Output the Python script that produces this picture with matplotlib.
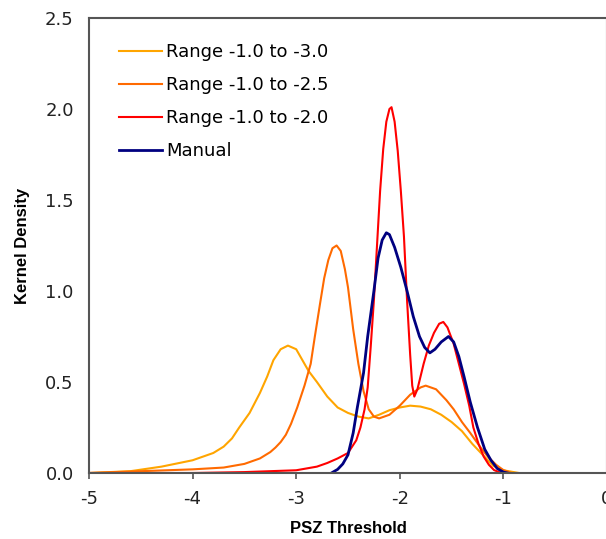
import matplotlib
matplotlib.use("Agg")
import matplotlib.pyplot as plt

plt.rcParams['axes.unicode_minus'] = False

# ---- data ----
x_30 = [-5.0, -4.6, -4.3, -4.0, -3.9, -3.8, -3.7, -3.62, -3.55, -3.45, -3.35, -3.28, -3.22,
        -3.15, -3.08, -3.0, -2.94, -2.88, -2.8, -2.7, -2.6, -2.5, -2.4, -2.3, -2.2, -2.1,
        -2.0, -1.9, -1.8, -1.7, -1.6, -1.5, -1.4, -1.3, -1.2, -1.1, -1.0, -0.9, -0.85]
y_30 = [0.0, 0.01, 0.035, 0.07, 0.09, 0.11, 0.145, 0.19, 0.25, 0.33, 0.44, 0.53, 0.62,
        0.68, 0.70, 0.68, 0.62, 0.56, 0.50, 0.42, 0.36, 0.33, 0.31, 0.30, 0.32, 0.345,
        0.36, 0.37, 0.365, 0.35, 0.32, 0.28, 0.23, 0.16, 0.10, 0.04, 0.015, 0.005, 0.0]

x_25 = [-5.0, -4.5, -4.0, -3.7, -3.5, -3.35, -3.25, -3.2, -3.15, -3.1, -3.05, -2.99,
        -2.92, -2.86, -2.82, -2.77, -2.73, -2.69, -2.65, -2.61, -2.57, -2.53, -2.5,
        -2.45, -2.4, -2.35, -2.3, -2.25, -2.2, -2.1, -2.0, -1.9, -1.8, -1.75, -1.65,
        -1.55, -1.48, -1.4, -1.32, -1.22, -1.15, -1.07, -1.0, -0.92]
y_25 = [0.0, 0.01, 0.02, 0.03, 0.05, 0.08, 0.115, 0.14, 0.17, 0.21, 0.27, 0.36,
        0.48, 0.60, 0.75, 0.93, 1.07, 1.17, 1.235, 1.25, 1.22, 1.12, 1.02,
        0.79, 0.60, 0.45, 0.35, 0.31, 0.30, 0.32, 0.37, 0.43, 0.47, 0.48, 0.46,
        0.40, 0.35, 0.28, 0.22, 0.14, 0.09, 0.045, 0.016, 0.0]

x_20 = [-5.0, -4.0, -3.5, -3.0, -2.8, -2.7, -2.6, -2.5, -2.42, -2.38, -2.34, -2.31,
        -2.28, -2.25, -2.22, -2.19, -2.16, -2.13, -2.10, -2.08, -2.05, -2.02, -1.99, -1.96,
        -1.93, -1.90, -1.88, -1.86, -1.83, -1.77, -1.72, -1.67, -1.62, -1.58, -1.54, -1.48,
        -1.43, -1.38, -1.33, -1.29, -1.24, -1.19, -1.14, -1.09, -1.02]
y_20 = [0.0, 0.0, 0.005, 0.015, 0.035, 0.055, 0.08, 0.11, 0.18, 0.25, 0.35, 0.47,
        0.70, 0.95, 1.25, 1.55, 1.78, 1.93, 2.0, 2.01, 1.93, 1.77, 1.55, 1.30,
        0.95, 0.65, 0.48, 0.42, 0.46, 0.60, 0.70, 0.77, 0.82, 0.83, 0.80, 0.71,
        0.60, 0.49, 0.37, 0.25, 0.16, 0.09, 0.045, 0.016, 0.0]

x_man = [-2.66, -2.6, -2.55, -2.5, -2.45, -2.41, -2.35, -2.31, -2.25, -2.21, -2.17, -2.13,
         -2.10, -2.05, -1.99, -1.93, -1.87, -1.81, -1.76, -1.71, -1.66, -1.6, -1.53, -1.48,
         -1.43, -1.38, -1.32, -1.25, -1.18, -1.12, -1.06, -1.0, -0.96]
y_man = [0.0, 0.02, 0.05, 0.10, 0.22, 0.36, 0.55, 0.75, 1.0, 1.18, 1.28, 1.32,
         1.31, 1.24, 1.13, 1.0, 0.86, 0.75, 0.69, 0.66, 0.68, 0.72, 0.75, 0.72,
         0.64, 0.53, 0.39, 0.25, 0.13, 0.07, 0.025, 0.005, 0.0]

labels = ["Range -1.0 to -3.0", "Range -1.0 to -2.5", "Range -1.0 to -2.0", "Manual"]
colors = ["#FFA500", "#FF6A00", "#FF0000", "#000080"]

xticks = [-5, -4, -3, -2, -1, 0]
yticks = [0.0, 0.5, 1.0, 1.5, 2.0, 2.5]

W, H = 606, 539
fig = plt.figure(figsize=(W / 100, H / 100), dpi=100)
ax = fig.add_axes([89 / W, (H - 473) / H, (607 - 89) / W, (473 - 18) / H])

series = [(x_30, y_30), (x_25, y_25), (x_20, y_20), (x_man, y_man)]
for (xs, ys), lab, c in zip(series, labels, colors):
    lw = 2.0 if lab == "Manual" else 1.5
    ax.plot(xs, ys, color=c, lw=lw, label=lab, solid_joinstyle='round')

ax.set_xlim(-5, 0)
ax.set_ylim(0, 2.5)
ax.set_xticks(xticks)
ax.set_xticklabels([str(t) for t in xticks])
ax.set_yticks(yticks)
ax.set_yticklabels([f"{t:.1f}" for t in yticks])

spine_c = "#555555"
for s in ax.spines.values():
    s.set_color(spine_c)
    s.set_linewidth(1.5)

ax.tick_params(axis='x', direction='out', length=4.5, width=1.2, color=spine_c,
               labelsize=13, pad=8, labelcolor="#222222")
ax.tick_params(axis='y', length=0, labelsize=13, pad=11, labelcolor="#222222")

ax.set_xlabel("PSZ Threshold", family="Liberation Sans", fontweight="bold",
              fontsize=12, labelpad=9)
ax.set_ylabel("Kernel Density", family="Liberation Sans", fontweight="bold",
              fontsize=12, labelpad=11)

leg = ax.legend(loc="upper left", bbox_to_anchor=(119 / W, (H - 43) / H),
                bbox_transform=fig.transFigure, frameon=False, fontsize=13,
                handlelength=2.4, handletextpad=0.2, labelspacing=0.83,
                borderpad=0, borderaxespad=0)

fig.savefig("out.png", dpi=100)
